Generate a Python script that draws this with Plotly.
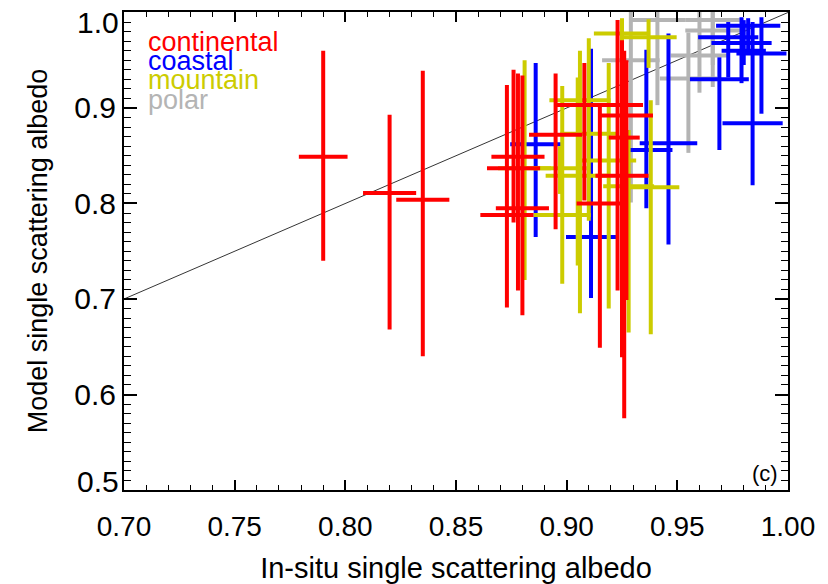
import plotly.graph_objects as go

# ---------------- data ----------------
cont_x    = [0.790, 0.820, 0.835, 0.873, 0.876, 0.878, 0.880, 0.895, 0.908, 0.915, 0.923, 0.927, 0.925, 0.926]
cont_y    = [0.849, 0.811, 0.804, 0.788, 0.837, 0.849, 0.795, 0.872, 0.903, 0.800, 0.903, 0.892, 0.829, 0.869]
cont_xerr = [0.011, 0.012, 0.012, 0.012, 0.012, 0.012, 0.012, 0.012, 0.013, 0.0105, 0.0115, 0.012, 0.012, 0.007]
cont_ytop = [0.960, 0.893, 0.939, 0.924, 0.940, 0.936, 0.934, 0.936, 0.947, 0.905, 0.992, 0.950, 0.971, 0.960]
cont_ybot = [0.740, 0.668, 0.640, 0.691, 0.780, 0.709, 0.683, 0.773, 0.803, 0.649, 0.709, 0.699, 0.639, 0.575]

coast_x    = [0.886, 0.911, 0.936, 0.946, 0.984, 0.969, 0.973, 0.979, 0.982, 0.988, 0.980]
coast_y    = [0.862, 0.765, 0.856, 0.863, 0.884, 0.930, 0.974, 0.968, 0.986, 0.957, 0.960]
coast_xerr = [0.0115, 0.0113, 0.0118, 0.013, 0.0136, 0.0133, 0.0136, 0.0136, 0.0145, 0.0113, 0.010]
coast_ytop = [0.947, 0.962, 0.961, 0.978, 0.990, 0.953, 0.990, 0.995, 0.994, 0.995, 0.992]
coast_ybot = [0.765, 0.701, 0.795, 0.757, 0.819, 0.856, 0.932, 0.926, 0.960, 0.894, 0.945]

mount_x    = [0.925, 0.937, 0.881, 0.898, 0.905, 0.906, 0.910, 0.919, 0.928, 0.938, 0.897]
mount_y    = [0.978, 0.974, 0.837, 0.788, 0.829, 0.908, 0.873, 0.845, 0.818, 0.817, 0.837]
mount_xerr = [0.0127, 0.0127, 0.012, 0.0129, 0.0145, 0.0138, 0.0129, 0.0124, 0.0115, 0.0129, 0.012]
mount_ytop = [0.994, 0.993, 0.950, 0.923, 0.932, 0.960, 0.973, 0.947, 0.877, 0.908, 0.860]
mount_ybot = [0.887, 0.942, 0.720, 0.716, 0.735, 0.685, 0.782, 0.690, 0.665, 0.663, 0.810]

polar_x    = [0.929, 0.941, 0.955, 0.960, 0.966, 0.966]
polar_y    = [0.950, 0.992, 0.931, 0.955, 0.981, 0.992]
polar_xerr = [0.013, 0.0127, 0.0129, 0.013, 0.0124, 0.0124]
polar_ytop = [1.020, 1.020, 0.979, 1.020, 1.020, 1.020]
polar_ybot = [0.801, 0.903, 0.853, 0.916, 0.922, 0.945]

groups = [
    ("polar", polar_x, polar_y, polar_xerr, polar_ytop, polar_ybot, "#b4b4b4"),
    ("coastal", coast_x, coast_y, coast_xerr, coast_ytop, coast_ybot, "#0000ff"),
    ("mountain", mount_x, mount_y, mount_xerr, mount_ytop, mount_ybot, "#cccc00"),
    ("continental", cont_x, cont_y, cont_xerr, cont_ytop, cont_ybot, "#ff0000"),
]
legend_order = [("continental", "#ff0000"), ("coastal", "#0000ff"),
                ("mountain", "#cccc00"), ("polar", "#b4b4b4")]

x_ticks = [0.70, 0.75, 0.80, 0.85, 0.90, 0.95, 1.00]
y_ticks = [0.5, 0.6, 0.7, 0.8, 0.9, 1.0]
y_end_labels = [(1.0, -10), (0.5, 9)]   # end labels sit inside the axis span

fig = go.Figure()

# 1:1 line
fig.add_trace(go.Scatter(x=[0.7, 1.0], y=[0.7, 1.0], mode="lines",
                         line=dict(color="black", width=0.8), showlegend=False,
                         hoverinfo="skip"))

for name, xs, ys, xe, yt, yb, col in groups:
    fig.add_trace(go.Scatter(
        x=xs, y=ys, mode="markers", name=name, showlegend=False,
        marker=dict(size=1, color=col),
        error_x=dict(type="data", array=xe, symmetric=True, color=col,
                     thickness=4, width=0),
        error_y=dict(type="data", symmetric=False,
                     array=[t - v for t, v in zip(yt, ys)],
                     arrayminus=[v - b for v, b in zip(ys, yb)],
                     color=col, thickness=4, width=0),
    ))

# legend-like labels
for i, (name, col) in enumerate(legend_order):
    fig.add_annotation(x=0.033, y=0.938 - i * 0.0405, xref="paper", yref="paper",
                       text=name, showarrow=False, xanchor="left", yanchor="middle",
                       font=dict(family="Liberation Sans, Arial", size=27, color=col))

fig.add_annotation(x=0.988, y=0.035, xref="paper", yref="paper", text="(c)",
                   showarrow=False, xanchor="right", yanchor="middle",
                   font=dict(family="Liberation Sans, Arial", size=22, color="black"))

# end tick labels of the y axis (placed slightly inside, as in the original)
for v, shift in y_end_labels:
    fig.add_annotation(x=0, y=v, xref="paper", yref="y", text=f"{v:.1f}",
                       showarrow=False, xanchor="right", yanchor="middle",
                       xshift=-3, yshift=shift,
                       font=dict(family="Liberation Sans, Arial", size=30, color="black"))

# page body adds an 8px offset, so the figure is 8px smaller than the window
fig.update_layout(
    width=820, height=576,
    margin=dict(l=116, r=40, t=4, b=94, autoexpand=False),
    paper_bgcolor="white", plot_bgcolor="white",
    showlegend=False,
)
fig.update_xaxes(
    range=[0.7, 1.0], tickvals=x_ticks, ticktext=[f"{v:.2f}" for v in x_ticks],
    automargin=False, ticklabeloverflow="allow",
    ticks="inside", ticklen=10, tickwidth=1.5, tickcolor="black",
    showline=True, linecolor="black", linewidth=2, mirror="ticks",
    showgrid=False, zeroline=False,
    minor=dict(dtick=0.01, tick0=0.7, ticks="inside", ticklen=5, tickwidth=1.2,
               tickcolor="black", showgrid=False),
    tickfont=dict(family="Liberation Sans, Arial", size=28, color="black"),
    ticklabelstandoff=10,
    title=dict(text="In-situ single scattering albedo", standoff=19,
               font=dict(family="Liberation Sans, Arial", size=29, color="black")),
)
end_vals = [v for v, _ in y_end_labels]
fig.update_yaxes(
    range=[0.5, 1.0005], tickvals=y_ticks,
    ticktext=["" if v in end_vals else f"{v:.1f}" for v in y_ticks],
    automargin=False, ticklabeloverflow="allow",
    ticks="inside", ticklen=13, tickwidth=1.5, tickcolor="black",
    showline=True, linecolor="black", linewidth=2, mirror="ticks",
    showgrid=False, zeroline=False,
    minor=dict(dtick=0.01, tick0=0.5, ticks="inside", ticklen=7, tickwidth=1.2,
               tickcolor="black", showgrid=False),
    tickfont=dict(family="Liberation Sans, Arial", size=30, color="black"),
    title=dict(text="Model single scattering albedo", standoff=19,
               font=dict(family="Liberation Sans, Arial", size=27, color="black")),
)

fig.write_html("out.html")
